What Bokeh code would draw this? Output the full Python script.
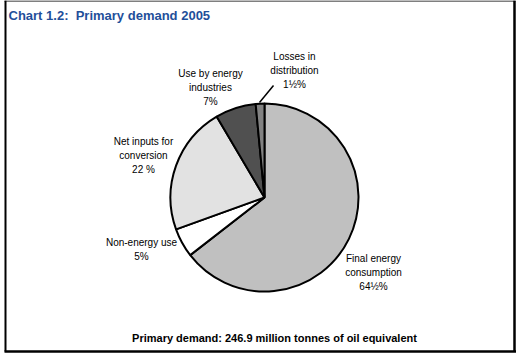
import math
from bokeh.plotting import figure
from bokeh.models import Range1d, ColumnDataSource
from bokeh.core.properties import value
from bokeh.embed import file_html
from bokeh.resources import INLINE

# ---- data ----
categories = ["Final energy consumption", "Non-energy use", "Net inputs for conversion",
              "Use by energy industries", "Losses in distribution"]
shares = [64.5, 5.0, 22.0, 7.0, 1.5]
labels = ["Final energy\nconsumption\n64½%", "Non-energy use\n5%",
          "Net inputs for\nconversion\n22 %", "Use by energy\nindustries\n7%",
          "Losses in\ndistribution\n1½%"]
colors = ["#C0C0C0", "#FFFFFF", "#E2E2E2", "#505050", "#828282"]
title_text = "Chart 1.2:\u00a0 Primary demand 2005"
footer_text = "Primary demand: 246.9 million tonnes of oil equivalent"

# ---- layout (pixels, page coordinates with y measured from figure bottom) ----
W, H = 517, 354
cx, cy, R = 264, 157, 94
label_pos = [(373, 82), (141, 105), (143, 199), (210, 267), (294, 284)]

total = sum(shares)
starts, ends = [], []
cum = 0.0
for s in shares:
    a0 = math.pi / 2 - 2 * math.pi * (cum + s) / total
    a1 = math.pi / 2 - 2 * math.pi * cum / total
    starts.append(a0)
    ends.append(a1)
    cum += s

p = figure(width=W, height=H, x_range=Range1d(0, W), y_range=Range1d(0, H),
           output_backend="svg", toolbar_location=None, min_border=0,
           background_fill_color="white", border_fill_color="white")
p.axis.visible = False
p.xgrid.visible = False
p.ygrid.visible = False
p.outline_line_color = None

src = ColumnDataSource(dict(start=starts, end=ends, color=colors, cat=categories))
p.wedge(x=cx, y=cy, radius=R, start_angle="start", end_angle="end", fill_color="color",
        line_color="black", line_width=2, source=src)

# leader line for the small slice
p.line(x=[259, 273], y=[252, 269], line_color="black", line_width=1.5)

lsrc = ColumnDataSource(dict(x=[q[0] for q in label_pos], y=[q[1] for q in label_pos], t=labels))
p.text(x="x", y="y", text="t", source=lsrc, text_align="center", text_baseline="middle",
       text_font=value("Liberation Sans"), text_font_size="10px", text_line_height=1.3,
       text_color="black")

p.text(x=[8], y=[339], text=[title_text], text_align="left", text_baseline="middle",
       text_font=value("Liberation Sans"), text_font_size="13px", text_font_style="bold",
       text_color="#1F4F9A")
p.text(x=[274], y=[17], text=[footer_text], text_align="center", text_baseline="middle",
       text_font=value("Liberation Sans"), text_font_size="11px", text_font_style="bold",
       text_color="black")

# frame
p.segment(x0=[5, 514, 4, 4], y0=[3, 3, 3, 353.5], x1=[5, 514, 515.5, 515], y1=[354, 354, 3, 353.5],
          line_color="black", line_width=[2, 2.5, 2.5, 1])

html = file_html(p, INLINE)
html = html.replace("<body>", '<body style="margin:0">', 1)
open("out.html", "w").write(html)
